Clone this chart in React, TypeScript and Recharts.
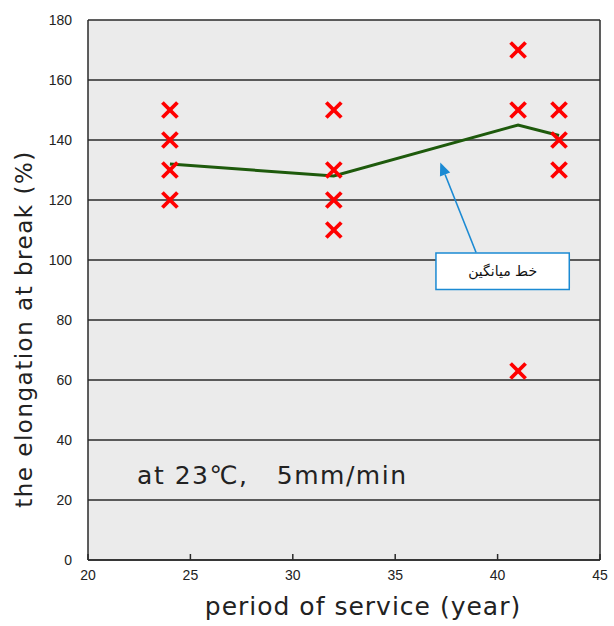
import {
  ComposedChart, Scatter, Line, XAxis, YAxis, CartesianGrid,
  ReferenceLine, ReferenceArea, ReferenceDot, Label,
} from 'recharts';

const serviceYears = [24, 32, 41, 43];
const measuredValues = [
  [150, 140, 130, 120],
  [150, 130, 120, 110],
  [170, 150, 63],
  [150, 140, 130],
];
const averageValues = [132, 128, 145, 141.5];
const xTicks = [20, 25, 30, 35, 40, 45];
const yTicks = [0, 20, 40, 60, 80, 100, 120, 140, 160, 180];

const points = serviceYears.flatMap((yr, i) => measuredValues[i].map((v) => ({ x: yr, y: v })));
const avgLine = serviceYears.map((yr, i) => ({ x: yr, y: averageValues[i] }));

const FONT = '"Liberation Sans", Arial, sans-serif';
const TITLE_FONT = '"DejaVu Sans", sans-serif';
const ARROW = '#1b8ad3';

const Cross = (props: any) => {
  const { cx, cy } = props;
  const s = 7.5;
  return (
    <g stroke="#ff0000" strokeWidth={3.8} strokeLinecap="butt">
      <line x1={cx - s} y1={cy - s} x2={cx + s} y2={cy + s} />
      <line x1={cx - s} y1={cy + s} x2={cx + s} y2={cy - s} />
    </g>
  );
};

const Arrow = (props: any) => {
  const { x1, y1, x2, y2 } = props;
  const ang = Math.atan2(y2 - y1, x2 - x1);
  const len = 13, half = 5.5;
  const bx = x2 - len * Math.cos(ang), by = y2 - len * Math.sin(ang);
  const px = -Math.sin(ang) * half, py = Math.cos(ang) * half;
  return (
    <g>
      <line x1={x1} y1={y1} x2={bx} y2={by} stroke={ARROW} strokeWidth={1.6} />
      <polygon points={`${x2},${y2} ${bx + px},${by + py} ${bx - px},${by - py}`} fill={ARROW} />
    </g>
  );
};

export default function App() {
  return (
    <div style={{ position: 'absolute', left: 0, top: 0, background: '#fff' }}>
      <ComposedChart width={614} height={626} margin={{ top: 20, right: 14, left: 0, bottom: 0 }}>
        <CartesianGrid vertical={false} fill="#ebebeb" stroke="#2a2a2a" strokeWidth={1.5} />
        <XAxis
          type="number" dataKey="x" domain={[20, 45]} ticks={xTicks} height={66}
          tick={{ fill: '#222', fontSize: 14, fontFamily: FONT }}
          tickSize={-6} tickMargin={16}
          stroke="#2a2a2a" strokeWidth={1.5}
        >
          <Label
            content={({ viewBox }: any) => (
              <text x={viewBox.x + viewBox.width / 2 + 19} y={viewBox.y + 48} textAnchor="middle"
                fontSize={25} fontFamily={TITLE_FONT} letterSpacing={1} fill="#222" dominantBaseline="middle">
                period of service (year)
              </text>
            )}
          />
        </XAxis>
        <YAxis
          type="number" domain={[0, 180]} ticks={yTicks} width={88}
          tick={{ fill: '#222', fontSize: 14, fontFamily: FONT }}
          tickLine={false} tickSize={0} tickMargin={16}
          stroke="#2a2a2a" strokeWidth={1.5}
        >
          <Label
            content={({ viewBox }: any) => {
              const cx = viewBox.x + 25;
              const cy = viewBox.y + viewBox.height / 2 + 39;
              return (
                <text x={cx} y={cy} textAnchor="middle" dominantBaseline="middle"
                  transform={`rotate(-90, ${cx}, ${cy})`}
                  fontSize={23} fontFamily={TITLE_FONT} letterSpacing={1.5} fill="#222">
                  the elongation at break (%)
                </text>
              );
            }}
          />
        </YAxis>
        <ReferenceLine x={45} stroke="#2a2a2a" strokeWidth={1.5} />
        <ReferenceDot x={29} y={28.3} r={0} stroke="none"
          label={{ value: 'at 23℃,\u00A0\u00A0\u00A05mm/min', position: 'center', fontSize: 25, fontFamily: TITLE_FONT,
            fill: '#222', letterSpacing: 1.5 }} />
        <Line data={avgLine} dataKey="y" type="linear" stroke="#1e5a0c" strokeWidth={3}
          dot={false} activeDot={false} isAnimationActive={false} />
        <Scatter data={points} dataKey="y" shape={Cross} isAnimationActive={false} />
        <ReferenceLine segment={[{ x: 38.95, y: 102.5 }, { x: 37.2, y: 132.5 }]} shape={Arrow} ifOverflow="visible" />
        <ReferenceArea x1={36.99} x2={43.5} y1={90.2} y2={102.3} fill="#ffffff" fillOpacity={1}
          stroke={ARROW} strokeWidth={1.5} ifOverflow="visible"
          label={{ value: 'خط میانگین', position: 'center', fontSize: 14, fontFamily: '"DejaVu Sans", sans-serif', fill: '#111' }} />
      </ComposedChart>
    </div>
  );
}
